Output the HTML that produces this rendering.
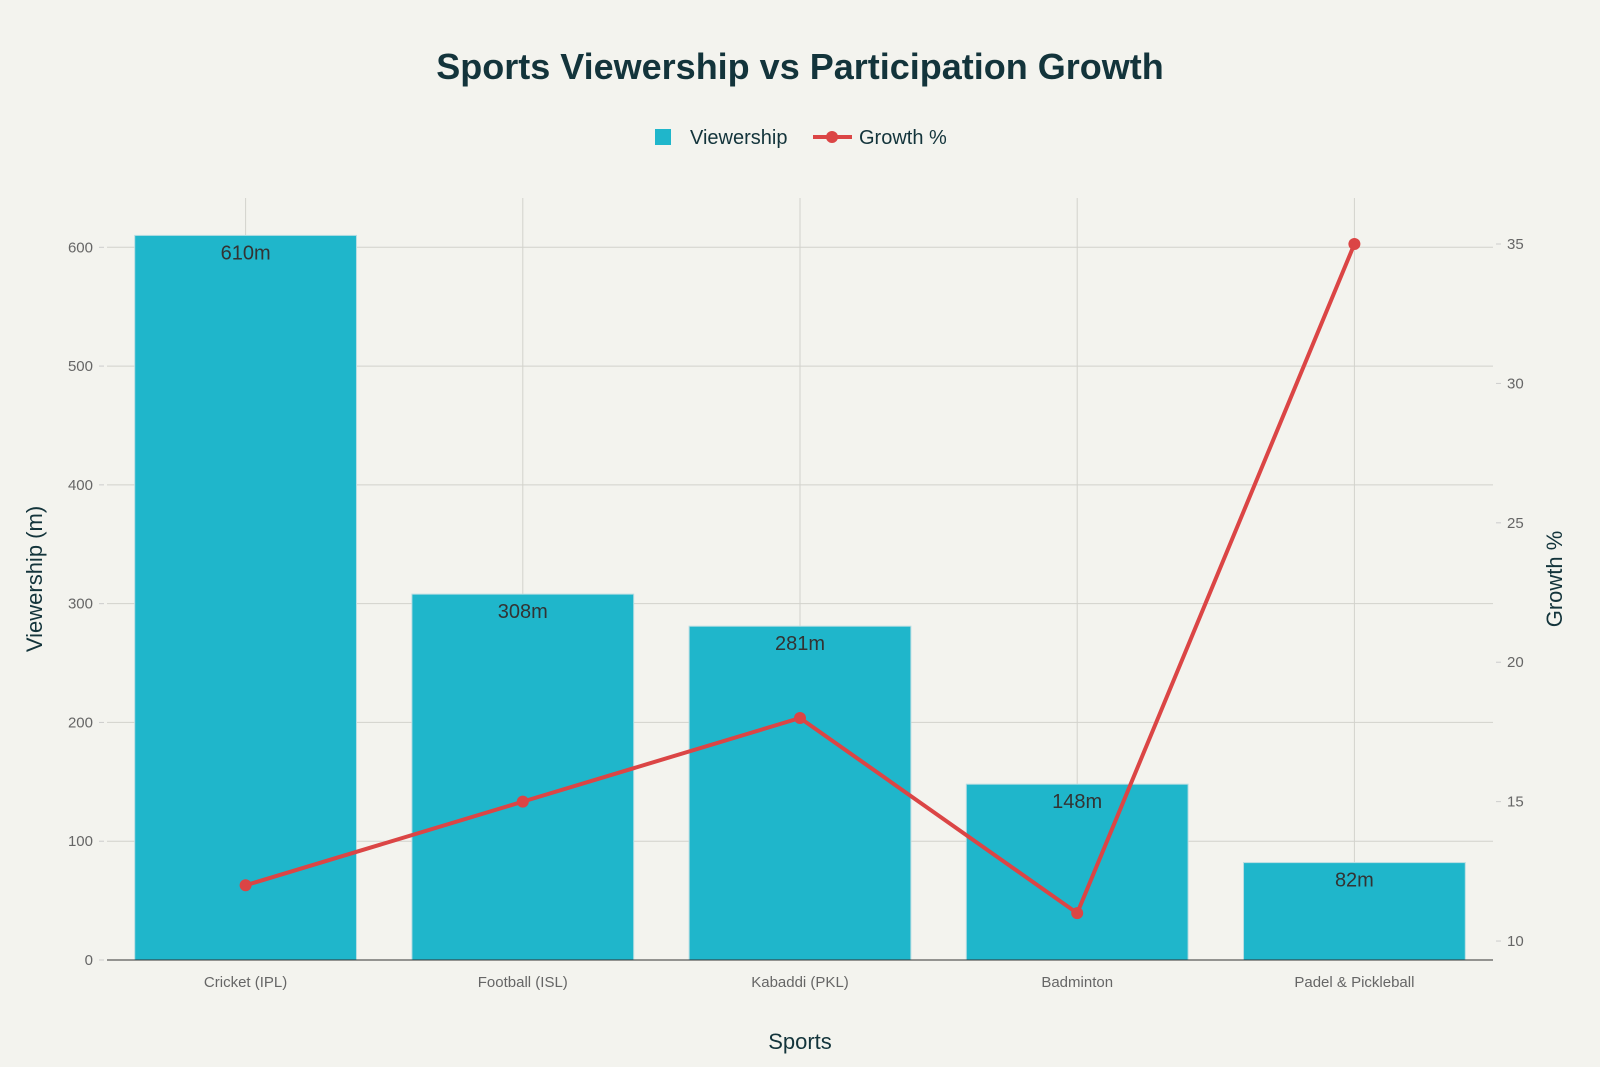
<!DOCTYPE html>
<html><head><meta charset="utf-8"><style>
body{margin:0;background:#f3f3ee;}
svg{display:block;font-family:"Liberation Sans",sans-serif;}
</style></head><body>
<svg id="chart" width="1600" height="1067">
<rect width="1600" height="1067" fill="#f3f3ee"/>
<text x="800" y="79" text-anchor="middle" font-size="36" font-weight="bold" fill="#13343b">Sports Viewership vs Participation Growth</text>
<g>
<g><rect x="655" y="129" width="16" height="16" fill="#1fb6cb"/><text x="690" y="144" font-size="20" fill="#13343b">Viewership</text></g>
<g><line x1="813" y1="137" x2="852" y2="137" stroke="#db4545" stroke-width="4"/><circle cx="832" cy="137" r="6" fill="#db4545"/><text x="859" y="144" font-size="20" fill="#13343b">Growth %</text></g>
</g>
<g id="grid"></g><g id="bars"></g><g id="line"></g><g id="axes"></g>
<text transform="translate(42,579) rotate(-90)" text-anchor="middle" font-size="22" fill="#13343b">Viewership (m)</text>
<text transform="translate(1562,579) rotate(-90)" text-anchor="middle" font-size="22" fill="#13343b">Growth %</text>
<text x="800" y="1049" text-anchor="middle" font-size="22" fill="#13343b">Sports</text>
</svg>
<script>
const categories=["Cricket (IPL)","Football (ISL)","Kabaddi (PKL)","Badminton","Padel & Pickleball"];
const viewership=[610,308,281,148,82];
const growth=[12,15,18,11,35];
const yTicks=[0,100,200,300,400,500,600];
const y2Ticks=[10,15,20,25,30,35];
const NS="http://www.w3.org/2000/svg";
const L=107,R=1493,T=198,B=960;
const yMin=0,yMax=641.5,y2Min=9.32,y2Max=36.65;
const band=(R-L)/categories.length;
const xC=i=>L+band*(i+0.5);
const yS=v=>B-(v-yMin)/(yMax-yMin)*(B-T);
const y2S=v=>B-(v-y2Min)/(y2Max-y2Min)*(B-T);
function mk(tag,attrs,parent,txt){const e=document.createElementNS(NS,tag);for(const k in attrs)e.setAttribute(k,attrs[k]);if(txt!==undefined)e.textContent=txt;parent.appendChild(e);return e;}
const grid=document.getElementById('grid'),bars=document.getElementById('bars'),line=document.getElementById('line'),axes=document.getElementById('axes');
yTicks.forEach(t=>{const y=yS(t);
 if(t>0){const g=mk('line',{x1:L,x2:R,y1:y,y2:y,stroke:'#d2d2cc','stroke-width':1},grid);
 
 }
 const lb=mk('text',{x:L-14,y:y+5,'text-anchor':'end','font-size':15,fill:'#666'},axes,String(t));
 
 
 mk('line',{x1:L-8,x2:L-3,y1:y,y2:y,stroke:'#ccc'},axes);
});
y2Ticks.forEach(t=>{const y=y2S(t);
 const lb=mk('text',{x:R+14,y:y+5,'font-size':15,fill:'#666'},axes,String(t));
 
 
 mk('line',{x1:R+3,x2:R+8,y1:y,y2:y,stroke:'#ccc'},axes);
});
categories.forEach((c,i)=>{const x=xC(i);
 const g=mk('line',{x1:x,x2:x,y1:T,y2:B,stroke:'#d2d2cc'},grid);
 
 
 const lb=mk('text',{x:x,y:B+27,'text-anchor':'middle','font-size':15,fill:'#666'},axes,c);
 
 
 const bw=band*0.8,top=yS(viewership[i]);
 const b=mk('rect',{x:x-bw/2,y:top,width:bw,height:B-top,fill:'#1fb6cb',stroke:'#b7dde2','stroke-width':1},bars);
 
 
 const v=mk('text',{x:x,y:top+24,'text-anchor':'middle','font-size':20,fill:'#333'},bars,viewership[i]+'m');
 
 
});
const ax=mk('line',{x1:L,x2:R,y1:B,y2:B,stroke:'#333','stroke-width':1},axes);


const pts=growth.map((g,i)=>xC(i)+','+y2S(g)).join(' ');
const pl=mk('polyline',{points:pts,fill:'none',stroke:'#db4545','stroke-width':4,'stroke-linejoin':'round'},line);


growth.forEach((g,i)=>{const c=mk('circle',{cx:xC(i),cy:y2S(g),r:6,fill:'#db4545'},line);
 
 });
</script>
</body></html>
